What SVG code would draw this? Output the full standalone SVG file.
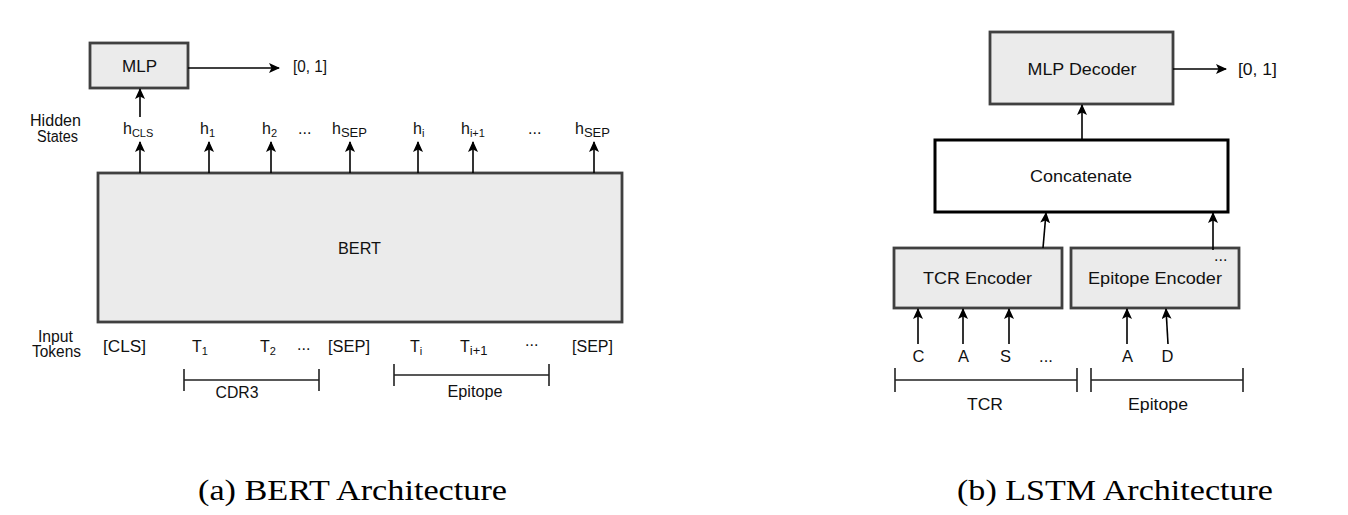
<svg xmlns="http://www.w3.org/2000/svg" width="1348" height="515" viewBox="0 0 1348 515">
<defs>
<marker id="ah" markerWidth="11" markerHeight="10" refX="10" refY="5" orient="auto" markerUnits="userSpaceOnUse">
<path d="M0,0 L11,5 L0,10 L2.5,5 z" fill="#000"/>
</marker>
<style>
.box{fill:#ebebeb;stroke:#404040;stroke-width:2.8}
.cbox{fill:#fff;stroke:#000;stroke-width:3}
.t{font-family:"Liberation Sans",Arial,sans-serif;font-size:16px;fill:#111}
.tr{font-family:"Liberation Sans",Arial,sans-serif;font-size:16.5px;fill:#111}
.m{text-anchor:middle}
.sub{font-size:11px}
.cap{font-family:"Liberation Serif","Times New Roman",serif;font-size:30px;fill:#000}
.ar{stroke:#000;stroke-width:1.6;fill:none;marker-end:url(#ah)}
.br{stroke:#222;stroke-width:1.6;fill:none}
</style>
</defs>
<rect width="1348" height="515" fill="#fff"/>

<!-- BERT side -->
<g id="mlp-left">
<rect class="box" x="90" y="43" width="98" height="45"/>
<text class="t m" x="139.5" y="72" textLength="35" lengthAdjust="spacingAndGlyphs">MLP</text>
</g>
<g id="out-left"><text class="t" x="293" y="72" textLength="34" lengthAdjust="spacingAndGlyphs">[0, 1]</text></g>
<g id="bert">
<rect class="box" x="98" y="173" width="524" height="149"/>
<text class="t m" x="359.5" y="254" textLength="43" lengthAdjust="spacingAndGlyphs">BERT</text>
</g>
<g id="hidden-label">
<text class="t m" x="55.5" y="126" textLength="51" lengthAdjust="spacingAndGlyphs">Hidden</text>
<text class="t m" x="57.5" y="142" textLength="41" lengthAdjust="spacingAndGlyphs">States</text>
</g>
<g id="hidden-states">
<text class="t" x="123" y="134">h<tspan class="sub" dy="3">CLS</tspan></text>
<text class="t" x="200" y="134">h<tspan class="sub" dy="3">1</tspan></text>
<text class="t" x="262" y="134">h<tspan class="sub" dy="3">2</tspan></text>
<text class="t" x="298" y="134">...</text>
<text class="t" x="332" y="134">h<tspan class="sub" dy="3" style="font-size:13px">SEP</tspan></text>
<text class="t" x="413" y="134">h<tspan class="sub" dy="3">i</tspan></text>
<text class="t" x="461" y="134">h<tspan class="sub" dy="3">i+1</tspan></text>
<text class="t" x="528" y="134">...</text>
<text class="t" x="575" y="134">h<tspan class="sub" dy="3" style="font-size:13px">SEP</tspan></text>
</g>
<g id="input-label">
<text class="t m" x="55.5" y="342" textLength="35" lengthAdjust="spacingAndGlyphs">Input</text>
<text class="t m" x="56.5" y="357" textLength="49" lengthAdjust="spacingAndGlyphs">Tokens</text>
</g>
<g id="input-tokens">
<text class="t" x="103" y="352" textLength="43" lengthAdjust="spacingAndGlyphs">[CLS]</text>
<text class="t" x="192" y="352">T<tspan class="sub" dy="3">1</tspan></text>
<text class="t" x="260" y="352">T<tspan class="sub" dy="3">2</tspan></text>
<text class="t" x="297" y="350">...</text>
<text class="t" x="328" y="352" textLength="42" lengthAdjust="spacingAndGlyphs">[SEP]</text>
<text class="t" x="410" y="352">T<tspan class="sub" dy="3">i</tspan></text>
<text class="t" x="460" y="352">T<tspan class="sub" dy="3" style="font-size:13px">i+1</tspan></text>
<text class="t" x="525" y="346">...</text>
<text class="t" x="572" y="352" textLength="41" lengthAdjust="spacingAndGlyphs">[SEP]</text>
</g>
<g id="cdr3-bracket">
<path class="br" d="M184,369 V391 M184,380 H319 M319,369 V391"/>
<text class="t m" x="237" y="398" textLength="43" lengthAdjust="spacingAndGlyphs">CDR3</text>
</g>
<g id="epitope-bracket-left">
<path class="br" d="M394,364 V386 M394,375 H549 M549,364 V386"/>
<text class="t m" x="475" y="397" textLength="55" lengthAdjust="spacingAndGlyphs">Epitope</text>
</g>

<!-- LSTM side -->
<g id="mlp-decoder">
<rect class="box" x="990" y="32" width="183" height="72"/>
<text class="tr m" x="1082" y="75" textLength="109" lengthAdjust="spacingAndGlyphs">MLP Decoder</text>
</g>
<g id="out-right"><text class="tr" x="1238" y="75" textLength="39" lengthAdjust="spacingAndGlyphs">[0, 1]</text></g>
<g id="concatenate">
<rect class="cbox" x="935" y="140" width="293" height="72"/>
<text class="tr m" x="1081" y="182" textLength="102" lengthAdjust="spacingAndGlyphs">Concatenate</text>
</g>
<g id="tcr-encoder">
<rect class="box" x="894" y="248" width="168" height="60"/>
<text class="tr m" x="977.5" y="284" textLength="109" lengthAdjust="spacingAndGlyphs">TCR Encoder</text>
</g>
<g id="epitope-encoder">
<rect class="box" x="1071" y="248" width="168" height="60"/>
<text class="tr m" x="1155" y="284" textLength="134" lengthAdjust="spacingAndGlyphs">Epitope Encoder</text>
<text class="t" x="1214" y="261">...</text>
</g>
<g id="tcr-tokens">
<text class="tr m" x="918.5" y="362">C</text>
<text class="tr m" x="963.5" y="362">A</text>
<text class="tr m" x="1005.5" y="362">S</text>
<text class="tr m" x="1046" y="362">...</text>
<text class="tr m" x="1127.5" y="362">A</text>
<text class="tr m" x="1167.5" y="362">D</text>
</g>
<g id="tcr-bracket">
<path class="br" d="M895,368 V392 M895,380 H1077 M1077,368 V392"/>
<text class="tr m" x="985" y="410" textLength="36" lengthAdjust="spacingAndGlyphs">TCR</text>
</g>
<g id="epitope-bracket-right">
<path class="br" d="M1091,368 V392 M1091,380 H1243 M1243,368 V392"/>
<text class="tr m" x="1158" y="410" textLength="60" lengthAdjust="spacingAndGlyphs">Epitope</text>
</g>

<g id="connectors">
<line class="ar" x1="188" y1="68" x2="279" y2="68"/>
<line class="ar" x1="140" y1="117" x2="140" y2="89"/>
<line class="ar" x1="140" y1="173" x2="140" y2="142"/>
<line class="ar" x1="209" y1="173" x2="209" y2="142"/>
<line class="ar" x1="271" y1="173" x2="271" y2="142"/>
<line class="ar" x1="350" y1="173" x2="350" y2="142"/>
<line class="ar" x1="418" y1="173" x2="418" y2="142"/>
<line class="ar" x1="473" y1="173" x2="473" y2="142"/>
<line class="ar" x1="594" y1="173" x2="594" y2="142"/>

<line class="ar" x1="1173" y1="69" x2="1226" y2="69"/>
<line class="ar" x1="1082" y1="140" x2="1082" y2="105"/>
<line class="ar" x1="1043" y1="248" x2="1046" y2="213"/>
<line class="ar" x1="1213" y1="250" x2="1213" y2="213"/>
<line class="ar" x1="918" y1="344" x2="918" y2="309"/>
<line class="ar" x1="963" y1="344" x2="963" y2="309"/>
<line class="ar" x1="1009" y1="344" x2="1009" y2="309"/>
<line class="ar" x1="1127" y1="344" x2="1127" y2="309"/>
<line class="ar" x1="1168" y1="344" x2="1166" y2="309"/>
</g>

<g id="captions">
<text class="cap" x="198" y="500" textLength="309" lengthAdjust="spacingAndGlyphs">(a) BERT Architecture</text>
<text class="cap" x="957" y="500" textLength="316" lengthAdjust="spacingAndGlyphs">(b) LSTM Architecture</text>
</g>
</svg>
